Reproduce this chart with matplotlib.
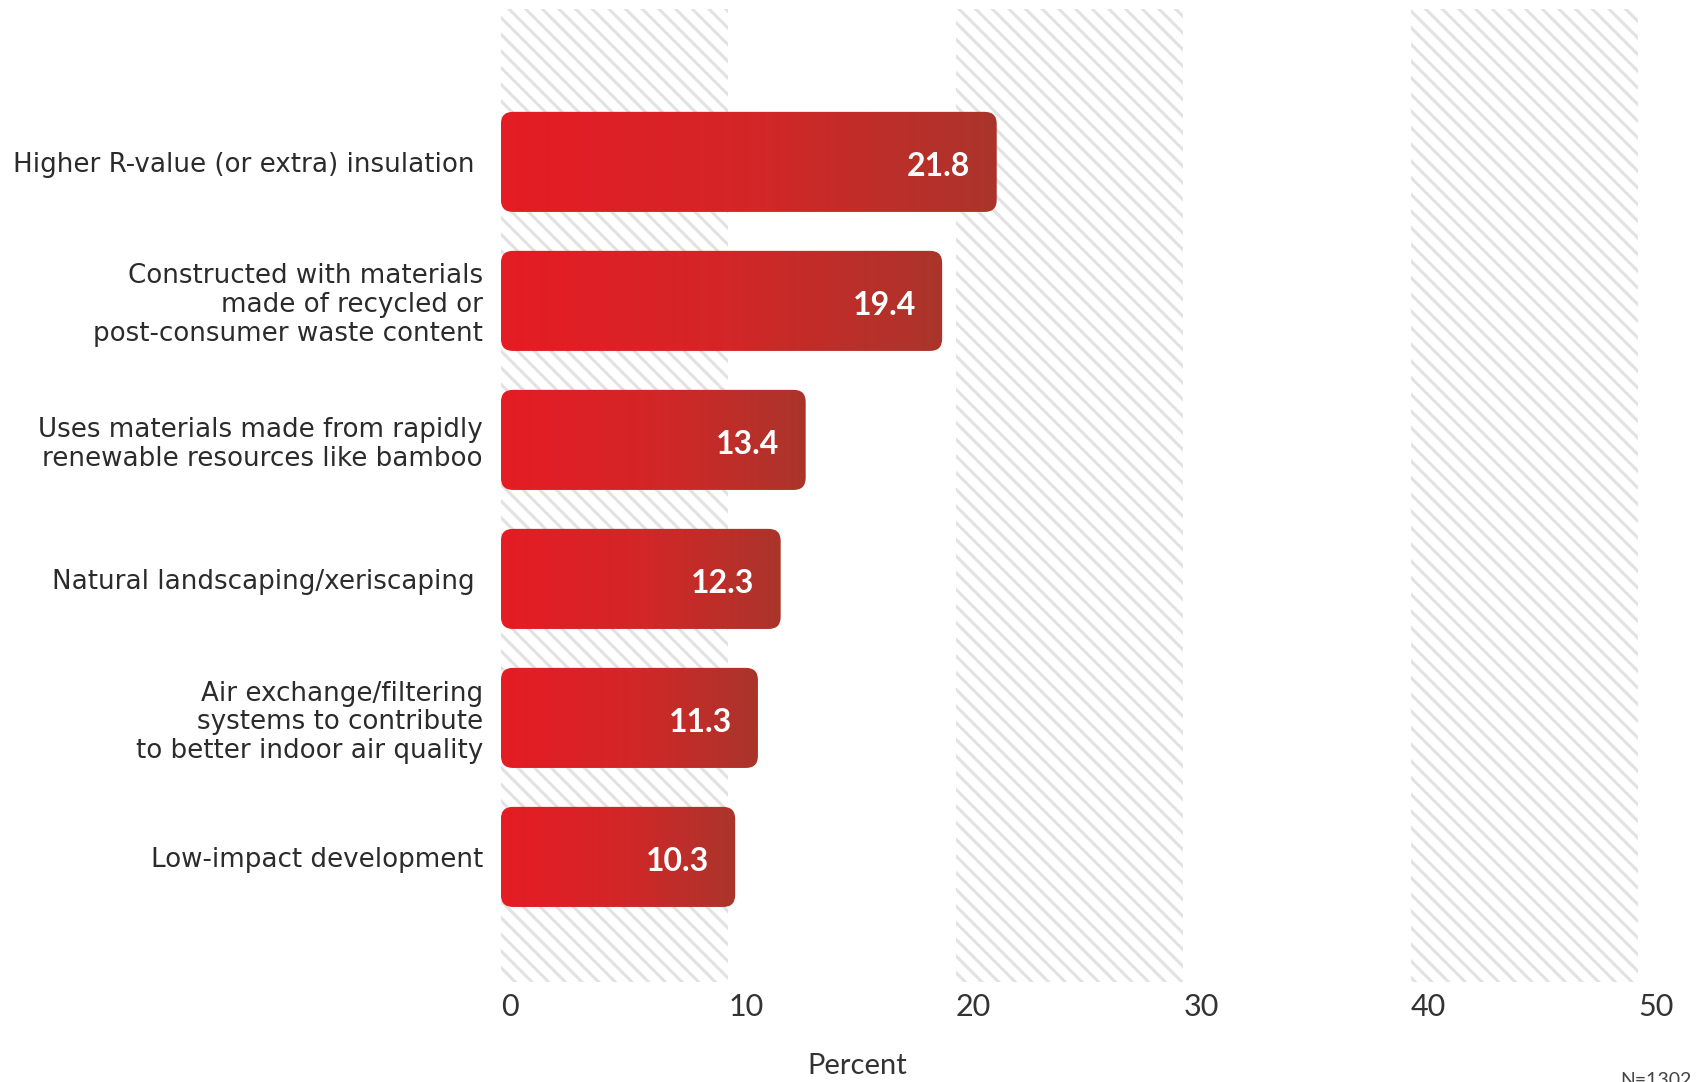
import numpy as np
import matplotlib
matplotlib.use("Agg")
import matplotlib.pyplot as plt
from matplotlib.patches import FancyBboxPatch
from matplotlib.colors import LinearSegmentedColormap

# Survey results: green features, share of respondents (percent)
categories = [
    "Higher R-value (or extra) insulation ",
    "Constructed with materials\nmade of recycled or\npost-consumer waste content",
    "Uses materials made from rapidly\nrenewable resources like bamboo",
    "Natural landscaping/xeriscaping ",
    "Air exchange/filtering\nsystems to contribute\nto better indoor air quality",
    "Low-impact development",
]
values = [21.8, 19.4, 13.4, 12.3, 11.3, 10.3]
x_ticks = [0, 10, 20, 30, 40, 50]
x_label = "Percent"
sample_note = "N=1302"

plt.rcParams["font.family"] = ["DejaVu Sans"]
plt.rcParams["hatch.linewidth"] = 2.2

fig = plt.figure(figsize=(17.01, 10.82), dpi=100)
ax = fig.add_axes([0.2945, 0.0924, 0.6685, 0.8993])

n = len(categories)
ypos = np.arange(n)
bar_h = 0.72
ax.set_xlim(x_ticks[0], x_ticks[-1])
ax.set_ylim(n - 0.10, -1.10)

# Alternating hatched bands behind the bars
for lo, hi in zip(x_ticks[0::2], x_ticks[1::2]):
    ax.axvspan(lo, hi, facecolor="white", edgecolor="#e2e2e2",
               hatch="\\\\", linewidth=0, zorder=0)

# Rounded bars with a horizontal red gradient
fig.canvas.draw()
bbox = ax.get_window_extent()
px_per_x = bbox.width / (x_ticks[-1] - x_ticks[0])
px_per_y = bbox.height / (n - 0.10 + 1.10)
radius_px = 12
rx = radius_px / px_per_x
aspect = px_per_x / px_per_y

cmap = LinearSegmentedColormap.from_list("bar_red", ["#e51c24", "#d42627", "#aa352b"])
grad = np.linspace(0, 1, 256).reshape(1, -1)

for y, v in zip(ypos, values):
    patch = FancyBboxPatch((0, y - bar_h / 2), v, bar_h,
                           boxstyle=f"round,pad=0,rounding_size={rx}",
                           mutation_aspect=aspect,
                           facecolor="none", edgecolor="none", zorder=2)
    ax.add_patch(patch)
    im = ax.imshow(grad, cmap=cmap, aspect="auto",
                   extent=[0, v, y + bar_h / 2, y - bar_h / 2],
                   zorder=2, interpolation="bilinear")
    im.set_clip_path(patch)
    ax.text(v - 1.15, y + 0.03, f"{v:.1f}", ha="right", va="center",
            color="white", fontsize=23, fontweight="bold",
            family=["Lato", "DejaVu Sans"], zorder=3)

ax.set_xlim(x_ticks[0], x_ticks[-1])
ax.set_ylim(n - 0.10, -1.10)

ax.set_yticks(ypos)
ax.set_yticklabels(categories, fontsize=18.8, color="#2b2b2b", linespacing=1.14)
ax.set_xticks(x_ticks)
ax.set_xticklabels([str(t) for t in x_ticks], fontsize=22, color="#333333",
                   family=["Lato", "DejaVu Sans"])
for lbl in ax.get_xticklabels():
    lbl.set_ha("left")
ax.tick_params(axis="both", length=0)
ax.tick_params(axis="y", pad=13)
ax.tick_params(axis="x", pad=8)
for s in ax.spines.values():
    s.set_visible(False)

fig.text(857 / 1701, (1082 - 1066) / 1082, x_label, ha="center", va="center",
         fontsize=21, color="#333333", family=["Lato", "DejaVu Sans"])
fig.text(1620 / 1701, (1082 - 1072) / 1082, sample_note, ha="left", va="top",
         fontsize=14, color="#444444", family=["Lato", "DejaVu Sans"])

fig.savefig("out.png", dpi=100, facecolor="white")
